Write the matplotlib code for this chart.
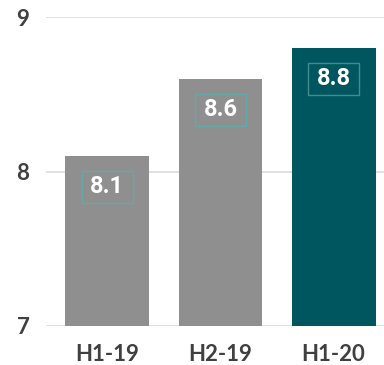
import matplotlib.pyplot as plt
from matplotlib.patches import Rectangle

# data
categories = ["H1-19", "H2-19", "H1-20"]
values = [8.1, 8.6, 8.8]
bar_colors = ["#8f8f8f", "#8f8f8f", "#00565e"]
box_edges = ["#63a9aa", "#63a9aa", "#3f8f92"]
y_ticks = [7, 8, 9]

fig = plt.figure(figsize=(3.84, 3.65), dpi=100)
ax = fig.add_axes([0.12, 0.107, 0.88, 0.846])

x = range(len(categories))
ax.bar(x, [v - 7 for v in values], bottom=7, width=0.74, color=bar_colors, zorder=2)

# value labels in outlined boxes
for i, v in enumerate(values):
    cy = v - 0.2
    ax.add_patch(Rectangle((i - 0.225, cy - 0.104), 0.45, 0.208, fill=False,
                           edgecolor=box_edges[i], linewidth=1.0, zorder=3))
    ax.text(i, cy, f"{v:.1f}", ha="center", va="center", color="white",
            fontsize=17, family="Roboto", fontweight="bold", zorder=4)

ax.set_xlim(-0.54, 2.445)
ax.set_ylim(7, 9)
ax.set_yticks(y_ticks)
ax.set_xticks(list(x))
ax.set_xticklabels(categories)
ax.yaxis.grid(True, color="#dcdcdc", linewidth=1.2, zorder=0)
ax.set_axisbelow(True)
for s in ax.spines.values():
    s.set_visible(False)
ax.tick_params(axis="both", length=0, colors="#404040", labelsize=15)
ax.tick_params(axis="y", pad=12)
ax.tick_params(axis="x", pad=13)
for lbl in ax.get_xticklabels() + ax.get_yticklabels():
    lbl.set_family("Lato")
    lbl.set_fontweight("bold")
    lbl.set_fontsize(16)

fig.savefig("out.png", dpi=100)
